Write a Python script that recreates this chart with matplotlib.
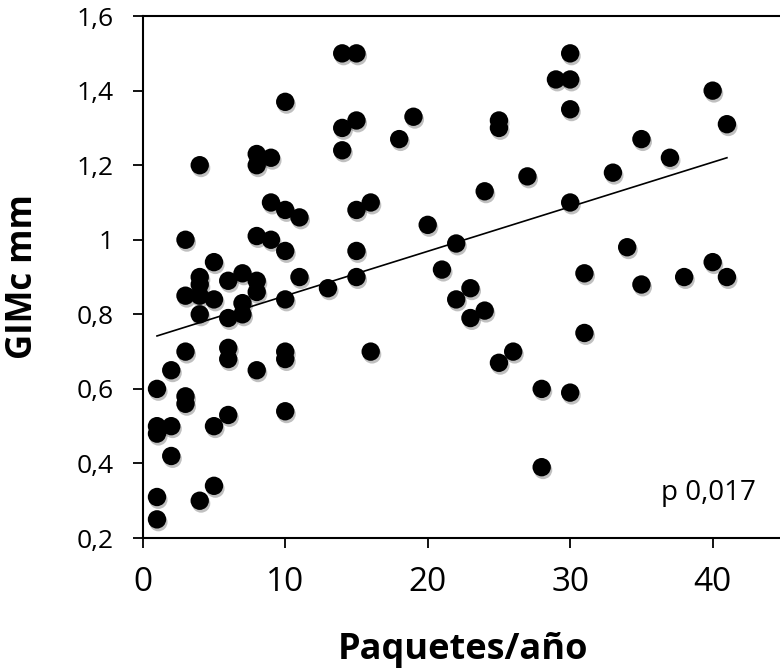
import matplotlib
matplotlib.use("Agg")
import matplotlib.pyplot as plt
import matplotlib.patheffects as pe
import numpy as np

# paquetes/año vs GIMc (mm)
paquetes = [1, 1, 1, 1, 1,
            2, 2, 2,
            3, 3, 3, 3, 3,
            4, 4, 4, 4, 4, 4,
            5, 5, 5, 5,
            6, 6, 6, 6, 6,
            7, 7, 7,
            8, 8, 8, 8, 8, 8,
            9, 9, 9,
            10, 10, 10, 10, 10, 10, 10,
            11, 11,
            13,
            14, 14, 14,
            15, 15, 15, 15, 15,
            16, 16,
            18, 19, 20, 21,
            22, 22,
            23, 23,
            24, 24,
            25, 25, 25,
            26, 27,
            28, 28,
            29,
            30, 30, 30, 30, 30,
            31, 31,
            33, 34,
            35, 35,
            37, 38,
            40, 40,
            41, 41]
gimc = [0.25, 0.31, 0.48, 0.50, 0.60,
        0.42, 0.50, 0.65,
        0.56, 0.58, 0.70, 0.85, 1.00,
        0.30, 0.80, 0.85, 0.88, 0.90, 1.20,
        0.34, 0.50, 0.84, 0.94,
        0.53, 0.68, 0.71, 0.79, 0.89,
        0.80, 0.83, 0.91,
        0.65, 0.86, 0.89, 1.01, 1.20, 1.23,
        1.00, 1.10, 1.22,
        0.54, 0.68, 0.70, 0.84, 0.97, 1.08, 1.37,
        0.90, 1.06,
        0.87,
        1.24, 1.30, 1.50,
        0.90, 0.97, 1.08, 1.32, 1.50,
        0.70, 1.10,
        1.27, 1.33, 1.04, 0.92,
        0.84, 0.99,
        0.79, 0.87,
        0.81, 1.13,
        0.67, 1.30, 1.32,
        0.70, 1.17,
        0.39, 0.60,
        1.43,
        0.59, 1.10, 1.35, 1.43, 1.50,
        0.75, 0.91,
        1.18, 0.98,
        0.88, 1.27,
        1.22, 0.90,
        0.94, 1.40,
        0.90, 1.31]

# trend line as drawn in the original (x from 1 to 41)
tend_x = [1, 41]
tend_y = [0.742, 1.22]

yticks = [0.2, 0.4, 0.6, 0.8, 1.0, 1.2, 1.4, 1.6]
ylabels = ["0,2", "0,4", "0,6", "0,8", "1", "1,2", "1,4", "1,6"]
xticks = [0, 10, 20, 30, 40]
xlabels = ["0", "10", "20", "30", "40"]

plt.rcParams['font.family'] = ['Open Sans', 'DejaVu Sans']

fig = plt.figure(figsize=(7.8, 6.7), dpi=100)
ax = fig.add_axes([0.183, 0.197, 0.822, 0.779])

sc = ax.scatter(paquetes, gimc, s=175, c='black', zorder=3, linewidths=0)
sc.set_path_effects([pe.SimplePatchShadow(offset=(1, -2), shadow_rgbFace='0.3', alpha=0.35),
                     pe.Normal()])
ax.plot(tend_x, tend_y, color='black', lw=1.2, zorder=4)

ax.set_xlim(0, 45)
ax.set_ylim(0.2, 1.6)
ax.set_yticks(yticks)
ax.set_yticklabels(ylabels, fontsize=19)
ax.set_xticks(xticks)
ax.set_xticklabels(xlabels, fontsize=24)
ax.tick_params(axis='y', direction='out', length=7, width=1.3, pad=14)
ax.tick_params(axis='x', direction='out', length=7, width=1.3, pad=13)
for s in ax.spines.values():
    s.set_linewidth(1.5)

ax.set_xlabel('Paquetes/año', fontsize=26, fontweight='bold', labelpad=24)
ax.set_ylabel('GIMc mm', fontsize=25, fontweight='bold')
ax.yaxis.set_label_coords(-0.159, 0.5)

ax.text(43, 0.32, 'p 0,017', fontsize=20, ha='right', va='center')

fig.savefig('out.png', dpi=100)
